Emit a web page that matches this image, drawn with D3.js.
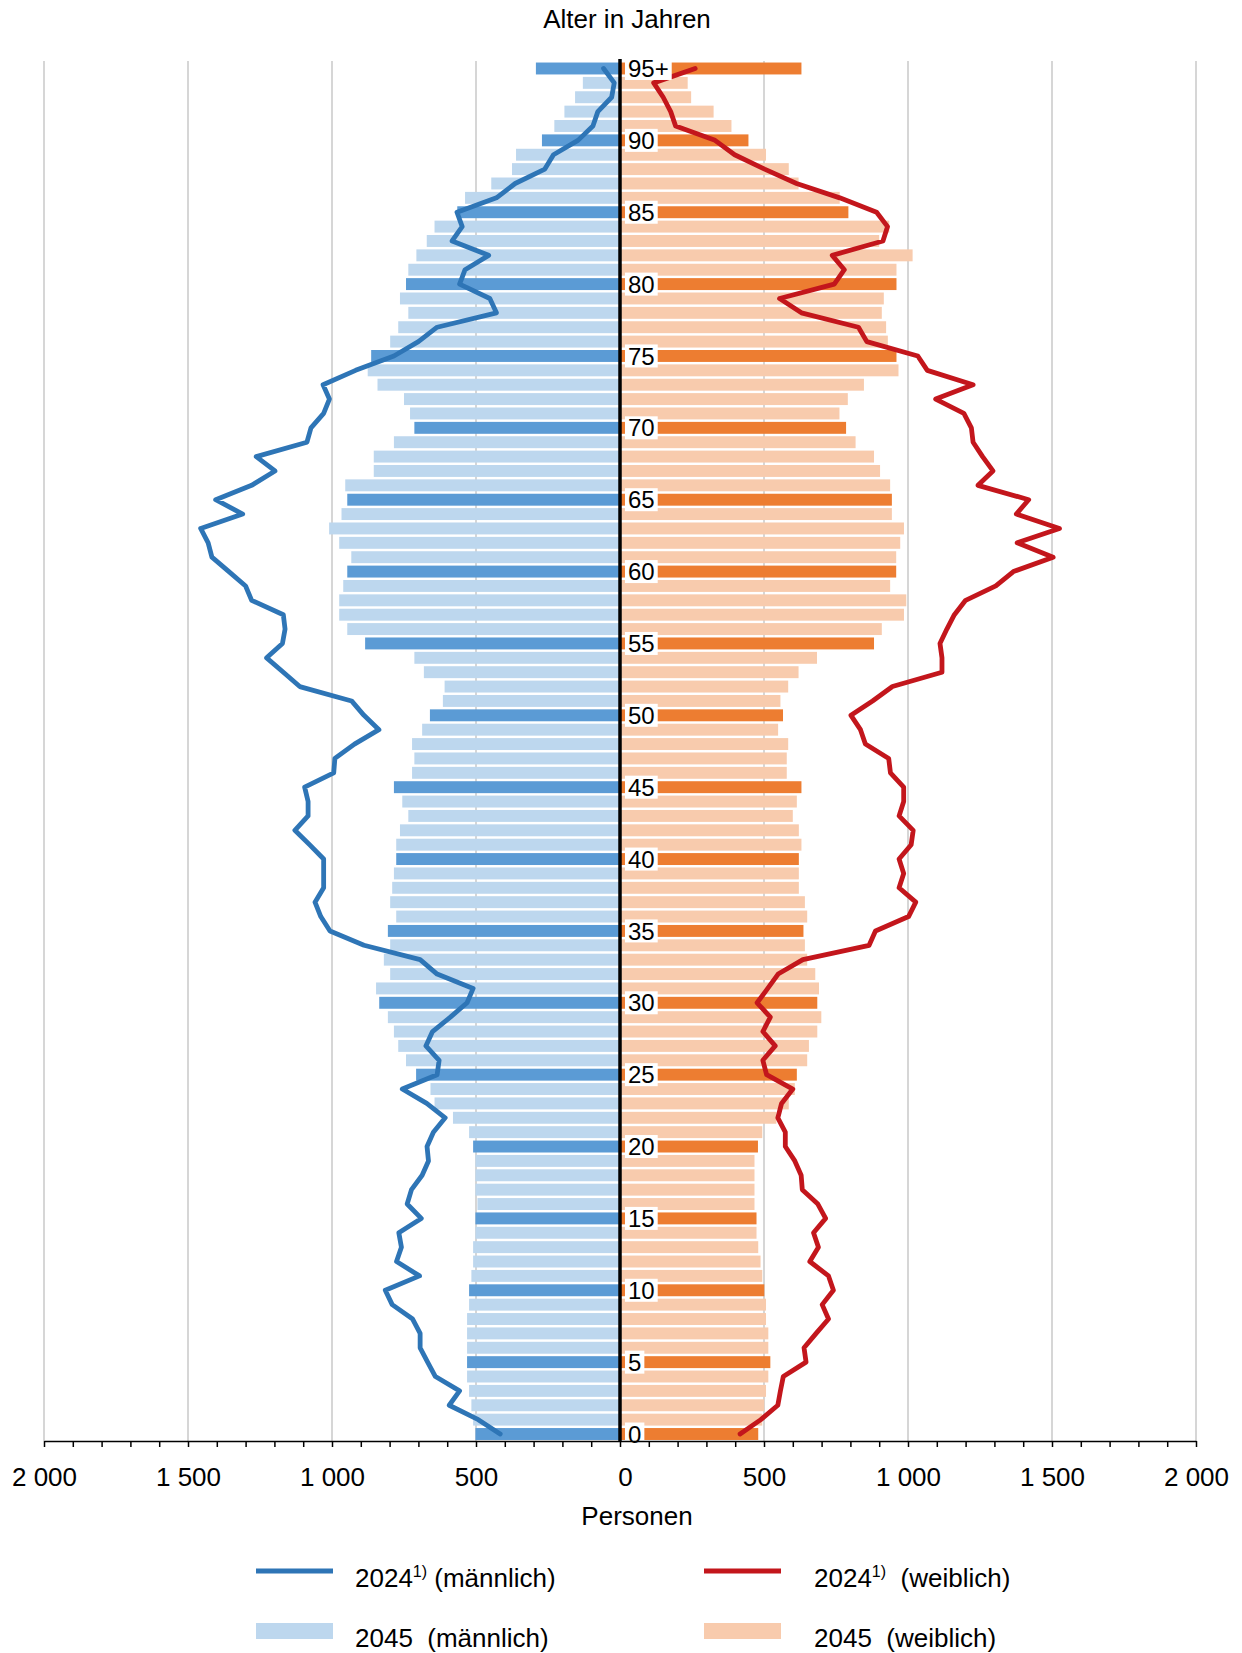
<!DOCTYPE html>
<html><head><meta charset="utf-8">
<script src="https://cdn.jsdelivr.net/npm/d3@7"></script>
<style>
body{margin:0;background:#fff}
svg{display:block}
text{font-family:"Liberation Sans", Arial, sans-serif; fill:#000;}
</style>
</head><body>
<svg id="c" width="1242" height="1653"></svg>
<script>
// ages 0 .. 95 (95 = "95+")
const ages = d3.range(0, 96);
const xTickValues = [-2000, -1500, -1000, -500, 0, 500, 1000, 1500, 2000];
const xTickLabels = ["2 000", "1 500", "1 000", "500", "0", "500", "1 000", "1 500", "2 000"];
const ageLabelValues = [0,5,10,15,20,25,30,35,40,45,50,55,60,65,70,75,80,85,90,95];
const ageLabelTexts = ["0","5","10","15","20","25","30","35","40","45","50","55","60","65","70","75","80","85","90","95+"];

// 2045 (männlich), age 0..95
const male2045 = [502,510,516,524,531,531,531,531,531,524,
  524,516,510,510,502,502,495,502,502,502,
  510,524,580,644,658,708,743,770,785,806,
  836,847,798,820,798,806,777,798,791,785,
  777,777,764,735,756,785,722,714,722,687,
  660,615,609,681,714,885,947,975,975,961,
  947,933,975,1010,967,947,954,855,855,785,
  714,729,750,842,876,864,798,770,735,764,
  743,735,707,671,644,565,538,447,375,361,
  271,228,193,156,129,292];

// 2045 (weiblich)
const female2045 = [480,494,501,507,515,522,515,515,507,507,
  501,494,488,480,474,474,467,467,467,467,
  479,494,543,586,607,614,650,656,685,699,
  685,691,678,650,642,637,650,642,621,621,
  621,630,621,600,614,630,579,579,584,549,
  566,557,584,620,684,882,909,986,994,938,
  959,959,973,986,944,944,938,903,882,818,
  785,762,791,847,967,960,930,924,909,916,
  960,960,1016,900,935,793,763,620,586,507,
  446,387,325,247,235,630];

// 2024 (männlich)
const male2024 = [416,492,593,557,641,668,694,694,720,791,
  815,696,776,759,768,690,739,724,687,665,
  670,648,607,671,756,635,628,674,651,589,
  531,510,635,694,889,1007,1039,1059,1029,1029,
  1029,1078,1129,1083,1083,1095,994,990,922,837,
  889,932,1112,1169,1227,1172,1163,1169,1279,1300,
  1358,1417,1430,1456,1310,1404,1279,1198,1263,1087,
  1073,1029,1009,1031,918,785,700,635,429,452,
  557,538,456,583,548,566,429,364,261,231,
  146,94,77,29,20,57];

// 2024 (weiblich)
const female2024 = [417,489,548,557,567,646,639,681,724,702,
  741,724,659,689,672,714,687,633,629,607,
  574,574,548,561,600,509,496,539,496,522,
  476,513,549,635,865,887,1002,1027,969,985,
  969,1011,1018,969,985,985,939,933,852,835,
  802,877,946,1118,1118,1111,1135,1161,1200,1305,
  1366,1504,1379,1526,1376,1419,1243,1295,1259,1226,
  1220,1194,1096,1226,1067,1034,857,828,630,554,
  744,779,737,913,929,891,763,613,502,398,
  330,193,176,150,117,261];

const seriesNames = ["2024", "2024", "2045", "2045"];
const legendSuffix = ["(männlich)", "(weiblich)", "(männlich)", "(weiblich)"];

const C = {
  maleLight: "#bdd7ee", maleDark: "#5b9bd5", maleLine: "#2e75b6",
  femLight: "#f8cbad", femDark: "#ed7d31", femLine: "#c3161c",
  grid: "#c9c9c9"
};

const svg = d3.select("#c");
const x = d3.scaleLinear().domain([-2000, 2000]).range([44, 1196]);
const y = d3.scaleBand().domain(ages.slice().reverse()).range([61.3, 1441.2]).paddingInner(0.17).paddingOuter(0.085);
const yc = a => y(a) + y.bandwidth() / 2;
const yTop = 61, yBottom = 1441;
const FS = 26;

// grid lines
svg.append("g").selectAll("line").data(xTickValues.filter(v => v !== 0)).join("line")
  .attr("x1", d => x(d)).attr("x2", d => x(d)).attr("y1", yTop).attr("y2", yBottom)
  .attr("stroke", C.grid).attr("stroke-width", 1.5);

// bars
const isDark = a => a % 5 === 0;
svg.append("g").selectAll("rect").data(ages).join("rect")
  .attr("x", a => x(-male2045[a])).attr("width", a => x(0) - x(-male2045[a]))
  .attr("y", a => y(a)).attr("height", y.bandwidth())
  .attr("fill", a => isDark(a) ? C.maleDark : C.maleLight);
svg.append("g").selectAll("rect").data(ages).join("rect")
  .attr("x", x(0)).attr("width", a => x(female2045[a]) - x(0))
  .attr("y", a => y(a)).attr("height", y.bandwidth())
  .attr("fill", a => isDark(a) ? C.femDark : C.femLight);

// lines
const lineM = d3.line().x(a => x(-male2024[a])).y(a => yc(a));
const lineF = d3.line().x(a => x(female2024[a])).y(a => yc(a));
svg.append("path").attr("d", lineM(ages)).attr("fill", "none").attr("stroke", C.maleLine)
  .attr("stroke-width", 4.8).attr("stroke-linejoin", "round").attr("stroke-linecap", "round");
svg.append("path").attr("d", lineF(ages)).attr("fill", "none").attr("stroke", C.femLine)
  .attr("stroke-width", 4.8).attr("stroke-linejoin", "round").attr("stroke-linecap", "round");

// center axis
svg.append("line").attr("x1", x(0)).attr("x2", x(0)).attr("y1", yTop - 2).attr("y2", yBottom)
  .attr("stroke", "#000").attr("stroke-width", 3.5);

// age labels
const lab = svg.append("g");
ageLabelValues.forEach((a, i) => {
  const g = lab.append("g");
  const t = g.append("text").attr("x", x(0) + 8).attr("y", yc(a)).attr("dy", "0.36em")
    .attr("font-size", 24).text(ageLabelTexts[i]);
  const bb = t.node().getBBox();
  g.insert("rect", "text").attr("x", x(0) + 5).attr("y", yc(a) - 11.5)
    .attr("width", bb.width + 6).attr("height", 23).attr("fill", "#fff");
});

// x axis
const ax = d3.axisBottom(x).tickValues(d3.range(-2000, 2001, 100)).tickSize(6).tickSizeOuter(0)
  .tickFormat(d => { const i = xTickValues.indexOf(d); return i >= 0 ? xTickLabels[i] : ""; });
const axg = svg.append("g").attr("transform", `translate(0,${yBottom})`).call(ax);
axg.select(".domain").attr("stroke", "#000").attr("stroke-width", 1.5);
axg.selectAll(".tick line").attr("stroke", "#000").attr("stroke-width", 1.5);
axg.selectAll(".tick text").attr("font-size", FS).attr("font-family", "Liberation Sans, Arial, sans-serif")
  .attr("fill", "#000").attr("y", 27).attr("dy", "0.71em")
  .attr("dx", d => d === 0 ? 5 : 0);

// titles
svg.append("text").attr("x", 627).attr("y", 28).attr("text-anchor", "middle").attr("font-size", FS).text("Alter in Jahren");
svg.append("text").attr("x", 637).attr("y", 1525).attr("text-anchor", "middle").attr("font-size", FS).text("Personen");

// legend
const leg = svg.append("g");
const legItems = [
  {x: 256, y: 1571, tx: 355, type: "line", color: C.maleLine, i: 0, sup: true, gap: " "},
  {x: 704, y: 1571, tx: 814, type: "line", color: C.femLine, i: 1, sup: true, gap: "\u00a0\u00a0"},
  {x: 256, y: 1631, tx: 355, type: "rect", color: C.maleLight, i: 2, sup: false, gap: "\u00a0\u00a0"},
  {x: 704, y: 1631, tx: 814, type: "rect", color: C.femLight, i: 3, sup: false, gap: "\u00a0\u00a0"}
];
legItems.forEach(it => {
  if (it.type === "line") {
    leg.append("line").attr("x1", it.x).attr("x2", it.x + 77).attr("y1", it.y).attr("y2", it.y)
      .attr("stroke", it.color).attr("stroke-width", 4.8);
  } else {
    leg.append("rect").attr("x", it.x).attr("y", it.y - 8).attr("width", 77).attr("height", 16).attr("fill", it.color);
  }
  const t = leg.append("text").attr("x", it.tx).attr("y", it.y + 16).attr("font-size", FS);
  t.append("tspan").text(seriesNames[it.i]);
  if (it.sup) t.append("tspan").attr("font-size", 16).attr("dy", -10).text("1)");
  t.append("tspan").attr("dy", it.sup ? 10 : 0).text(it.gap + legendSuffix[it.i]);
});
</script>
</body></html>
